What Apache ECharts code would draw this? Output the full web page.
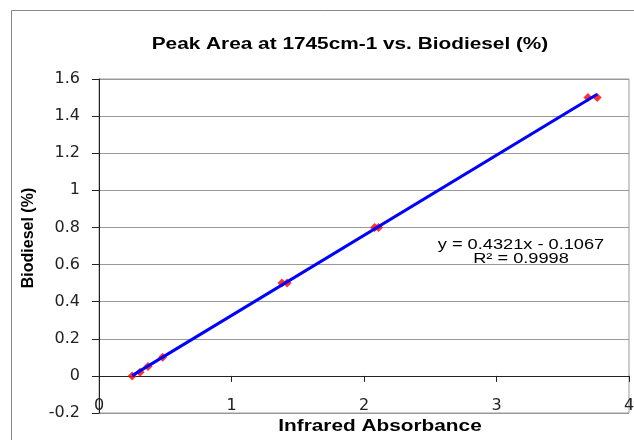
<!DOCTYPE html>
<html>
<head>
<meta charset="utf-8">
<script src="https://cdn.jsdelivr.net/npm/echarts@6/dist/echarts.min.js"></script>
<style>
	html, body { margin: 0; padding: 0; background: #fff; }
	#chart { width: 634px; height: 440px; }
</style>
</head>
<body>
<div id="chart"></div>
<script>
// measured points (infrared absorbance vs biodiesel %)
var absorbance = [0.25, 0.31, 0.37, 0.48, 1.38, 1.42, 2.08, 2.11, 3.69, 3.76];
var biodiesel = [0, 0.02, 0.05, 0.1, 0.5, 0.5, 0.8, 0.8, 1.5, 1.5];
// linear trendline
var slope = 0.4321;
var intercept = -0.1067;
var eqText = ['y = 0.4321x - 0.1067', 'R² = 0.9998'];

var points = absorbance.map(function (x, i) { return [x, biodiesel[i]]; });
var xMin = Math.min.apply(null, absorbance);
var xMax = Math.max.apply(null, absorbance);
var trend = [[xMin, slope * xMin + intercept], [xMax, slope * xMax + intercept]];

var chart = echarts.init(document.getElementById('chart'), null, { renderer: 'canvas' });
var font = 'Liberation Sans, Arial, sans-serif';
var wideFont = 'DejaVu Sans, sans-serif';
var stretch = 1.3; // the original picture is stretched sideways

var option = {
	backgroundColor: '#fff',
	animation: false,
	grid: {
		left: 99, right: 5, top: 79, bottom: 27,
		containLabel: false, outerBoundsMode: 'none',
		show: true, borderColor: '#999', borderWidth: 1
	},
	xAxis: {
		type: 'value',
		min: 0, max: 4, interval: 1,
		axisLine: { onZero: true, lineStyle: { color: '#222', width: 1 } },
		axisTick: { show: true, length: 6, inside: false, lineStyle: { color: '#222' } },
		// labels sit just under the zero line, inside the plot
		axisLabel: { fontFamily: wideFont, fontSize: 16, color: '#222', margin: -15 },
		splitLine: { show: false }
	},
	yAxis: {
		type: 'value',
		min: -0.2, max: 1.6, interval: 0.2,
		axisLine: { show: true, onZero: false, lineStyle: { color: '#222', width: 1 } },
		axisTick: { show: true, length: 7, lineStyle: { color: '#222' } },
		axisLabel: {
			fontFamily: wideFont, fontSize: 16, color: '#222', margin: 19,
			formatter: function (v) { return String(Math.round(v * 10) / 10); }
		},
		splitLine: { show: true, lineStyle: { color: '#999', width: 1 } }
	},
	graphic: [
		{
			type: 'rect',
			shape: { x: 11.5, y: 10.5, width: 700, height: 500 },
			style: { fill: 'none', stroke: '#888', lineWidth: 1 },
			z: -1
		},
		{
			type: 'text',
			x: 350, y: 45, scaleX: stretch,
			style: {
				text: 'Peak Area at 1745cm-1 vs. Biodiesel (%)',
				fontFamily: font, fontSize: 16, fontWeight: 'bold', fill: '#000',
				align: 'center', verticalAlign: 'middle'
			}
		},
		{
			type: 'text',
			x: 380, y: 427, scaleX: stretch,
			style: {
				text: 'Infrared Absorbance',
				fontFamily: font, fontSize: 16, fontWeight: 'bold', fill: '#000',
				align: 'center', verticalAlign: 'middle'
			}
		},
		{
			type: 'text',
			x: 29, y: 238, rotation: Math.PI / 2,
			style: {
				text: 'Biodiesel (%)',
				fontFamily: font, fontSize: 16, fontWeight: 'bold', fill: '#000',
				align: 'center', verticalAlign: 'middle'
			}
		},
		{
			type: 'text',
			x: 521, y: 252, scaleX: stretch,
			style: {
				text: eqText.join('\n'),
				fontFamily: font, fontSize: 14, fill: '#000',
				align: 'center', verticalAlign: 'middle', lineHeight: 14
			}
		}
	],
	series: [
		{
			type: 'scatter',
			data: points,
			symbol: 'diamond',
			symbolSize: 9,
			itemStyle: { color: '#ff0000' },
			z: 2
		},
		{
			type: 'line',
			data: trend,
			symbol: 'none',
			lineStyle: { color: '#0000ff', width: 3 },
			z: 3
		}
	]
};

chart.setOption(option);
</script>
</body>
</html>
